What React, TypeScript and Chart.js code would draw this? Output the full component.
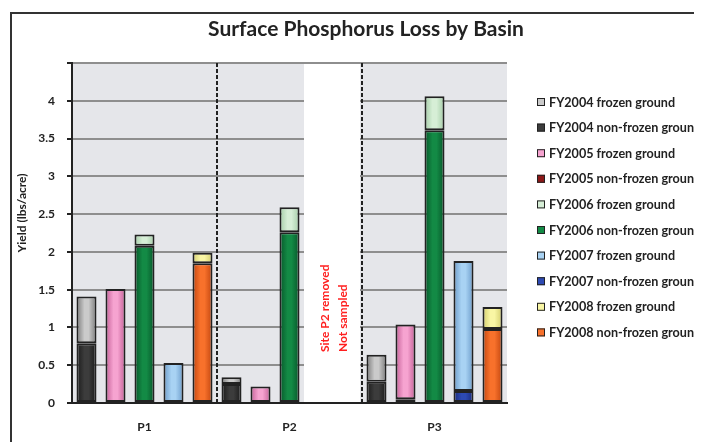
import React, { useEffect, useRef } from "react";
import { Chart, registerables } from "chart.js";

Chart.register(...registerables);

// ---- data ----
const years = ["FY2004", "FY2005", "FY2006", "FY2007", "FY2008"];
const basins = ["P1", "P2", "P3"];
// non-frozen (bottom) and frozen (top) yields, lbs/acre, per year
const p1NonFrozen = [0.79, null, 2.08, null, 1.85];
const p1Frozen = [0.62, 1.51, 0.15, 0.53, 0.14];
const p2NonFrozen = [0.25, null, 2.26, null, null];
const p2Frozen = [0.09, 0.22, 0.33, null, null];
const p3NonFrozen = [0.28, 0.05, 3.61, 0.16, 0.98];
const p3Frozen = [0.36, 0.99, 0.45, 1.72, 0.29];
const yTicksMax = 4.5;
const yStep = 0.5;
const title = "Surface Phosphorus Loss by Basin";
const yTitle = "Yield (lbs/acre)";
const noteLines = ["Site P2 removed", "Not sampled"];

// ---- styles ----
const frozenEdge = ["#7a7a7a", "#c45f97", "#a3cca6", "#6b9bca", "#d2cc6c"];
const frozenMid = ["#cacaca", "#f6a3d0", "#d6eed6", "#a8d2f3", "#f9f6a4"];
const nonEdge = ["#1a1a1a", "#5e0a0a", "#07562a", "#18297a", "#c2460f"];
const nonMid = ["#3c3c3c", "#8c1818", "#138a45", "#2d4ab3", "#f8712b"];
const FONT = 'Lato, "Open Sans", sans-serif';
const BAR_PCT = 0.69;

// build 15 slots: 5 years per basin
const basinRows = [
  [p1NonFrozen, p1Frozen],
  [p2NonFrozen, p2Frozen],
  [p3NonFrozen, p3Frozen],
];
const slotLabels: string[] = [];
basins.forEach((b) => years.forEach((_, yi) => slotLabels.push(yi === 2 ? b : "")));

function seriesFor(yearIdx: number, kind: 0 | 1) {
  const out: (number | null)[] = [];
  basinRows.forEach((row) => {
    years.forEach((_, yi) => out.push(yi === yearIdx ? row[kind][yearIdx] : null));
  });
  return out;
}

function gradFill(edge: string, mid: string) {
  return (ctx: any) => {
    const chart = ctx.chart;
    const xs = chart.scales && chart.scales.x;
    if (!xs || !chart.chartArea || ctx.type !== "data") return mid;
    const cx = xs.getPixelForValue(ctx.dataIndex);
    const half = ((xs.width / slotLabels.length) * BAR_PCT) / 2;
    if (!isFinite(cx)) return mid;
    const g = chart.ctx.createLinearGradient(cx - half, 0, cx + half, 0);
    g.addColorStop(0, edge);
    g.addColorStop(0.4, mid);
    g.addColorStop(0.6, mid);
    g.addColorStop(1, edge);
    return g;
  };
}

const legendItems: { text: string; color: string }[] = [];
years.forEach((y, i) => {
  legendItems.push({ text: `${y} frozen ground`, color: frozenMid[i] });
  legendItems.push({ text: `${y} non-frozen ground`, color: nonMid[i] });
});

const decorPlugin = {
  id: "decor",
  beforeDraw(chart: any) {
    const { ctx, chartArea: a } = chart;
    ctx.save();
    // outer frame
    ctx.strokeStyle = "#333333";
    ctx.lineWidth = 2;
    ctx.strokeRect(3, 5, 900, 900);
    // plot background
    ctx.fillStyle = "#e5e6ea";
    ctx.fillRect(a.left, a.top, a.right - a.left, a.bottom - a.top);
    ctx.restore();
  },
  beforeDatasetsDraw(chart: any) {
    const { ctx, chartArea: a } = chart;
    const xs = chart.scales.x;
    const slot = xs.width / slotLabels.length;
    const b1 = xs.getPixelForValue(4) + slot / 2;
    const b2 = xs.getPixelForValue(9) + slot / 2;
    const w0 = xs.getPixelForValue(8) - slot / 2;
    ctx.save();
    // not sampled region
    ctx.fillStyle = "#ffffff";
    ctx.fillRect(w0, a.top + 1, b2 - 2 - w0, a.bottom - a.top - 2);
    // dashed basin separators
    ctx.strokeStyle = "#222222";
    ctx.lineWidth = 2;
    ctx.setLineDash([4, 2]);
    [b1, b2].forEach((x) => {
      ctx.beginPath();
      ctx.moveTo(x, a.top);
      ctx.lineTo(x, a.bottom);
      ctx.stroke();
    });
    ctx.setLineDash([]);
    // note text
    const cx = (w0 + b2) / 2;
    ctx.fillStyle = "#ff1f1f";
    ctx.font = `bold 12px ${FONT}`;
    ctx.textAlign = "left";
    ctx.textBaseline = "middle";
    noteLines.forEach((t, i) => {
      ctx.save();
      ctx.translate(cx - 8 + i * 18, a.bottom - 51);
      ctx.rotate(-Math.PI / 2);
      ctx.fillText(t, 0, 0);
      ctx.restore();
    });
    ctx.restore();
  },
  afterDraw(chart: any) {
    const { ctx, chartArea: a } = chart;
    ctx.save();
    // title
    ctx.fillStyle = "#222222";
    ctx.font = `bold 21px ${FONT}`;
    ctx.textAlign = "center";
    ctx.textBaseline = "alphabetic";
    ctx.fillText(title, 358, 28);
    // y title
    ctx.font = `bold 12px ${FONT}`;
    ctx.textBaseline = "middle";
    ctx.save();
    ctx.translate(14, 205);
    ctx.rotate(-Math.PI / 2);
    ctx.fillText(yTitle, 0, 0);
    ctx.restore();
    // legend
    const bx = a.right + 30;
    ctx.textAlign = "left";
    ctx.font = `bold 12.6px ${FONT}`;
    legendItems.forEach((it, i) => {
      const cy = 94 + 25.6 * i;
      ctx.fillStyle = it.color;
      ctx.fillRect(bx, cy - 4, 8, 8);
      ctx.strokeStyle = "#222222";
      ctx.lineWidth = 1;
      ctx.strokeRect(bx + 0.5, cy - 3.5, 7, 7);
      ctx.fillStyle = "#222222";
      ctx.fillText(it.text, bx + 12, cy + 0.5);
    });
    ctx.restore();
  },
};

export default function App() {
  const ref = useRef<HTMLCanvasElement | null>(null);
  useEffect(() => {
    if (!ref.current) return;
    const datasets: any[] = [];
    years.forEach((y, i) => {
      datasets.push({
        label: `${y} non-frozen ground`,
        data: seriesFor(i, 0),
        backgroundColor: gradFill(nonEdge[i], nonMid[i]),
        borderColor: "#222222",
        borderWidth: 2,
        borderSkipped: false,
      });
      datasets.push({
        label: `${y} frozen ground`,
        data: seriesFor(i, 1),
        backgroundColor: gradFill(frozenEdge[i], frozenMid[i]),
        borderColor: "#222222",
        borderWidth: 2,
        borderSkipped: false,
      });
    });
    const chart = new Chart(ref.current, {
      type: "bar",
      data: { labels: slotLabels, datasets },
      options: {
        responsive: false,
        animation: false,
        layout: { padding: { top: 55, right: 195, left: 0, bottom: 0 } },
        datasets: { bar: { categoryPercentage: 1, barPercentage: BAR_PCT, skipNull: false } },
        plugins: { legend: { display: false }, title: { display: false }, tooltip: { enabled: false } },
        scales: {
          x: {
            stacked: true,
            grid: { display: false, drawTicks: false },
            border: { display: true, color: "#222222", width: 2 },
            ticks: { autoSkip: false, maxRotation: 0, padding: 17, color: "#222222", font: { family: FONT, size: 12, weight: "bold" } },
            afterFit: (s: any) => { s.height = 39; },
          },
          y: {
            stacked: true,
            min: 0,
            max: yTicksMax,
            ticks: {
              stepSize: yStep,
              padding: 12,
              color: "#222222",
              font: { family: FONT, size: 12, weight: "bold" },
              callback: (v: any) => (Number(v) >= yTicksMax ? "" : String(v)),
            },
            grid: { color: "#8e8e8e", lineWidth: 2, tickLength: 5, tickColor: "#222222", tickWidth: 2 },
            border: { display: true, color: "#222222", width: 2 },
            afterFit: (s: any) => { s.width = 64; },
          },
        },
      },
      plugins: [decorPlugin],
    });
    return () => chart.destroy();
  }, []);
  return (
    <div style={{ width: 694, height: 434 }}>
      <canvas ref={ref} width={694} height={434} style={{ display: "block" }} />
    </div>
  );
}
